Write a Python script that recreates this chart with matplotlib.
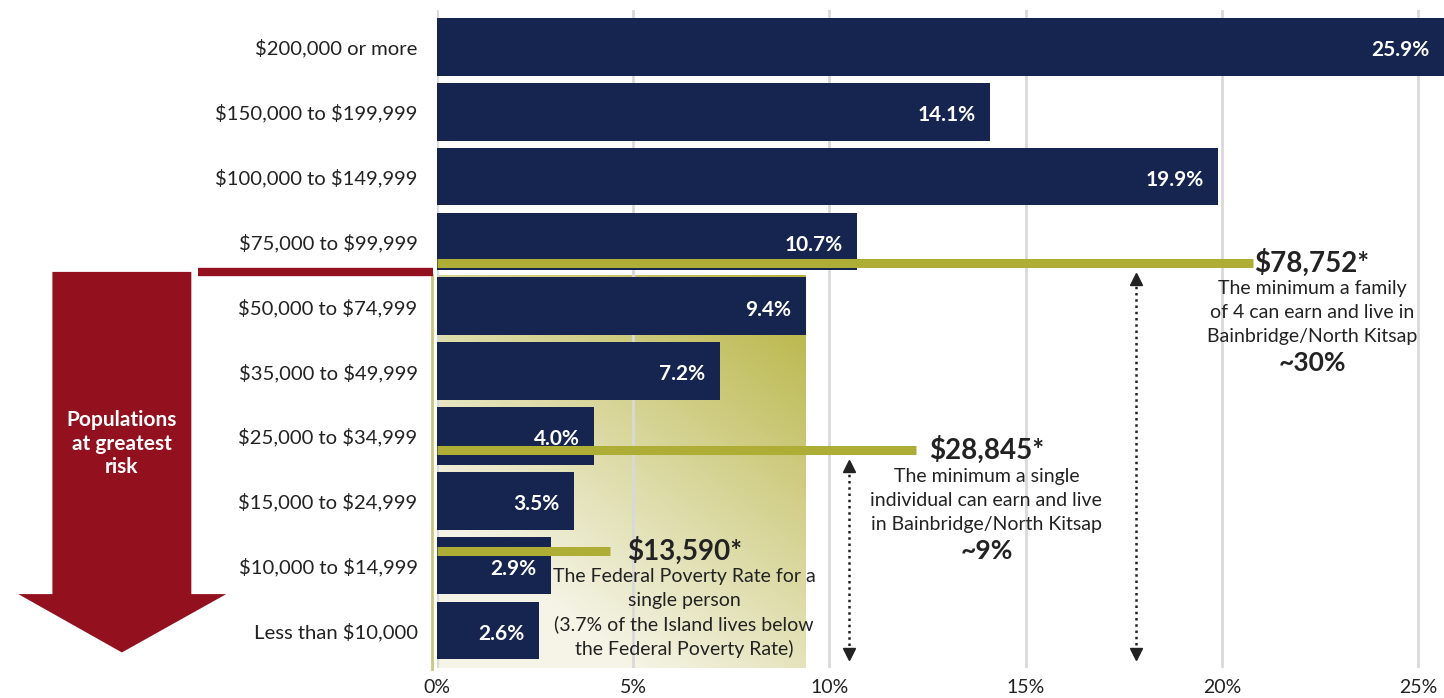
import matplotlib
matplotlib.use("Agg")
import matplotlib.pyplot as plt
import numpy as np
from matplotlib.patches import Polygon

plt.rcParams['font.family'] = ['Lato', 'DejaVu Sans']
plt.rcParams['text.parse_math'] = False

# --- data ---
categories = ["$200,000 or more", "$150,000 to $199,999", "$100,000 to $149,999",
              "$75,000 to $99,999", "$50,000 to $74,999", "$35,000 to $49,999",
              "$25,000 to $34,999", "$15,000 to $24,999", "$10,000 to $14,999",
              "Less than $10,000"]
shares = [25.9, 14.1, 19.9, 10.7, 9.4, 7.2, 4.0, 3.5, 2.9, 2.6]
xticks = [0, 5, 10, 15, 20, 25]

# threshold markers: row position, line length (%), headline, text, approx share
thr_rows = [3.33, 6.22, 7.77]
thr_lengths = [20.8, 12.2, 4.4]
thr_titles = ["$78,752*", "$28,845*", "$13,590*"]
thr_texts = [["The minimum a family", "of 4 can earn and live in",
              "Bainbridge/North Kitsap"],
             ["The minimum a single", "individual can earn and live",
              "in Bainbridge/North Kitsap"],
             ["The Federal Poverty Rate for a", "single person",
              "(3.7% of the Island lives below", "the Federal Poverty Rate)"]]
thr_shares = ["~30%", "~9%", ""]
thr_text_x = [22.3, 14.0, 6.3]
range_x = [17.8, 10.5]

NAVY = "#15254f"
OLIVE = "#aeae36"
RED = "#93111f"
GRID = "#d9d9d9"
TXT = "#222222"

fig = plt.figure(figsize=(14.44, 6.98), dpi=100)
ax = fig.add_axes([437 / 1444, 30 / 698, 1 - 437 / 1444, 658 / 698])

y = np.arange(len(categories))

# gradient box behind the lower-income rows
gx0, gx1, gy0, gy1 = -0.12, shares[4], 3.52, 9.6
nx, ny = 200, 200
u = np.linspace(0, 1, nx)[None, :]
v = np.linspace(0, 1, ny)[:, None]
t = np.clip(((1 - u) * 0.55 + v * 0.75), 0, 1)
dark = np.array([181, 178, 62]) / 255
light = np.array([245, 244, 230]) / 255
img = dark[None, None, :] + (light - dark)[None, None, :] * t[:, :, None]
ax.imshow(img, extent=[gx0, gx1, gy1, gy0], aspect='auto', zorder=0.5,
          interpolation='bilinear')
ax.plot([gx0, gx0], [gy0, gy1], color="#c9c77c", lw=2, zorder=0.6,
        clip_on=False)

for xt in xticks:
    ax.axvline(xt, color=GRID, lw=2, zorder=1)

ax.barh(y, shares, height=0.89, color=NAVY, zorder=2)
for yi, s in zip(y, shares):
    ax.text(min(s, 25.66) - 0.37, yi + 0.05, f"{s}%", ha='right', va='center',
            color='white', fontsize=15, fontweight='bold', zorder=5)

# threshold lines and notes
line_step = 0.37
for row, ln, title, lines, sh, tx in zip(thr_rows, thr_lengths, thr_titles,
                                         thr_texts, thr_shares, thr_text_x):
    ax.plot([0, ln], [row, row], color=OLIVE, lw=6.5, solid_capstyle='butt',
            zorder=3)
    ax.text(tx, row, title, ha='center', va='center', fontsize=20,
            fontweight='bold', color=TXT, zorder=6)
    yy = row + 0.40
    for line in lines:
        ax.text(tx, yy, line, ha='center', va='center', fontsize=14,
                color=TXT, zorder=6)
        yy += line_step
    if sh:
        ax.text(tx, yy + 0.04, sh, ha='center', va='center',
                fontsize=19, fontweight='bold', color=TXT, zorder=6)

# dotted range arrows
for rx, row in zip(range_x, [thr_rows[0], thr_rows[1]]):
    top, bot = row + 0.17, 9.45
    ax.plot([rx, rx], [top + 0.1, bot - 0.1], color=TXT, lw=1.8,
            linestyle=(0, (1, 1.5)), zorder=4)
    ax.plot([rx], [top + 0.08], marker='^', color=TXT, markersize=9, zorder=4)
    ax.plot([rx], [bot - 0.08], marker='v', color=TXT, markersize=9, zorder=4)

# red divider and "at risk" arrow, left of the axis
ax.plot([-6.08, -0.1], [3.47, 3.47], color=RED, lw=6, solid_capstyle='butt',
        clip_on=False, zorder=3)
arrow = Polygon([[-9.80, 3.47], [-6.26, 3.47], [-6.26, 8.44], [-5.37, 8.44],
                 [-8.03, 9.34], [-10.67, 8.44], [-9.80, 8.44]],
                closed=True, facecolor=RED, edgecolor='none', clip_on=False,
                zorder=3)
ax.add_patch(arrow)
ax.text(-8.03, 6.12, "Populations\nat greatest\nrisk", ha='center', va='center',
        color='white', fontsize=15, fontweight='bold', linespacing=1.22,
        zorder=6, clip_on=False)

ax.set_xlim(0, 25.66)
ax.set_ylim(9.58, -0.57)
ax.set_yticks(y)
ax.set_yticklabels(categories, fontsize=14.6, color=TXT)
ax.set_xticks(xticks)
ax.set_xticklabels([f"{v}%" for v in xticks], fontsize=14, color=TXT)
ax.tick_params(axis='y', length=0, pad=14)
ax.tick_params(axis='x', length=0, pad=8)
for sp in ax.spines.values():
    sp.set_visible(False)

fig.savefig("out.png", dpi=100)
